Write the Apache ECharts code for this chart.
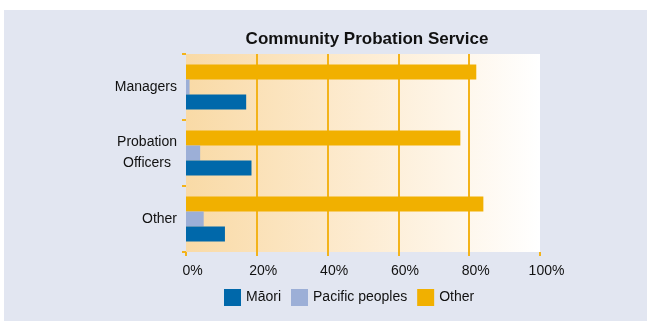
<!DOCTYPE html>
<html>
<head>
<meta charset="utf-8">
<script src="https://cdn.jsdelivr.net/npm/echarts@6/dist/echarts.min.js"></script>
<style>
  html, body { margin: 0; padding: 0; background: #ffffff; }
  #chart { width: 647px; height: 321px; }
</style>
</head>
<body>
<div id="chart"></div>
<script>
// 数据
var categories = ["Managers", "Probation Officers", "Other"];
var seriesNames = ["Māori", "Pacific peoples", "Other"];
var maori = [17, 18.5, 11];
var pacific = [1, 4, 5];
var other = [82, 77.5, 84];
var xTicks = [0, 20, 40, 60, 80, 100];

var colors = ["#0068aa", "#9cafd7", "#f1b000"];
var orange = "#f3b31a";

var chart = echarts.init(document.getElementById("chart"));

var option = {
  animation: false,
  textStyle: { fontFamily: "Liberation Sans, Arial, sans-serif" },
  graphic: [{
    type: "rect",
    z: -10,
    shape: { x: 4, y: 10, width: 643, height: 311 },
    style: { fill: "#e2e6f1" }
  }],
  title: {
    text: "Community Probation Service",
    left: 362,
    textAlign: "center",
    top: 26,
    textStyle: { fontSize: 17, fontWeight: "bold", color: "#111" }
  },
  legend: {
    data: seriesNames,
    left: 219,
    top: 284,
    itemWidth: 17,
    itemHeight: 17,
    itemGap: 10,
    icon: "rect",
    textStyle: { fontSize: 14, color: "#111" }
  },
  grid: {
    left: 186,
    right: 107,
    top: 54,
    bottom: 69,
    show: true,
    borderWidth: 0,
    backgroundColor: new echarts.graphic.LinearGradient(0, 0, 1, 0, [
      { offset: 0, color: "#f9daa6" },
      { offset: 0.5, color: "#fdecd2" },
      { offset: 1, color: "#ffffff" }
    ])
  },
  xAxis: {
    type: "value",
    min: 0,
    max: 100,
    interval: 20,
    axisLine: { show: false },
    axisTick: { show: true, length: 4, lineStyle: { color: orange, width: 2 } },
    splitLine: {
      show: true,
      lineStyle: {
        color: ["rgba(0,0,0,0)", orange, orange, orange, orange, "rgba(0,0,0,0)"],
        width: 2
      }
    },
    axisLabel: {
      fontSize: 14,
      color: "#111",
      margin: 12,
      padding: [0, 0, 0, 13],
      formatter: function (v) {
        return xTicks.indexOf(v) >= 0 ? v + "%" : "";
      }
    }
  },
  yAxis: {
    type: "category",
    inverse: true,
    data: categories,
    axisLine: { show: false },
    axisTick: { show: true, length: 4, lineStyle: { color: orange, width: 2 } },
    axisLabel: {
      fontSize: 14,
      color: "#111",
      margin: 9,
      lineHeight: 21,
      formatter: function (v) {
        if (v === "Probation Officers") {
          return "{c|Probation}\n{c|Officers}";
        }
        return v;
      },
      rich: {
        c: { align: "center", fontSize: 14, lineHeight: 21, color: "#111" }
      }
    }
  },
  series: [
    {
      name: seriesNames[2],
      type: "bar",
      data: other,
      barWidth: 15,
      barGap: "0%",
      itemStyle: { color: colors[2] }
    },
    {
      name: seriesNames[1],
      type: "bar",
      data: pacific,
      barWidth: 15,
      barGap: "0%",
      itemStyle: { color: colors[1] }
    },
    {
      name: seriesNames[0],
      type: "bar",
      data: maori,
      barWidth: 15,
      barGap: "0%",
      itemStyle: { color: colors[0] }
    }
  ]
};

chart.setOption(option);
</script>
</body>
</html>
